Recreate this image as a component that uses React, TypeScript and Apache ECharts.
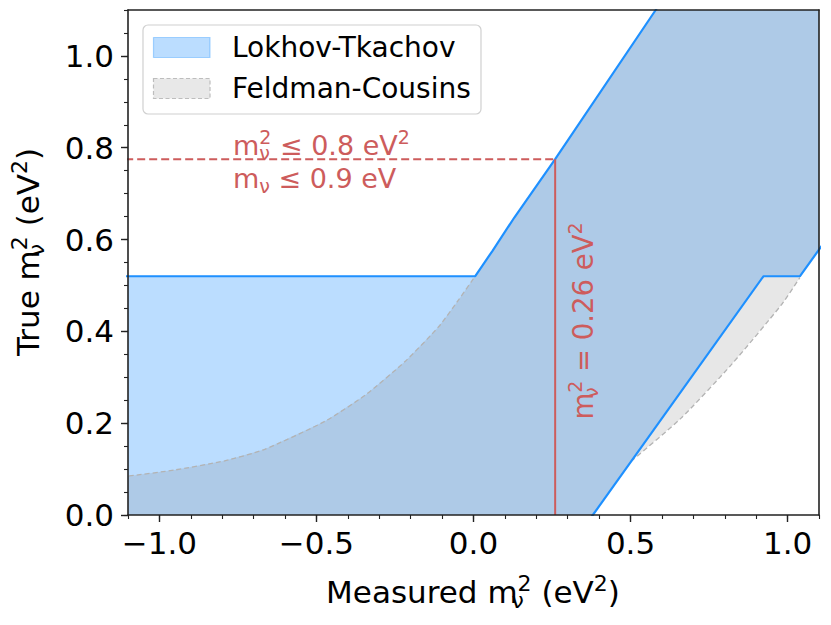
import React, { useEffect, useRef } from 'react';
import * as echarts from 'echarts';

// ---- axis ticks ----
const xMajorTicks = [-1.0, -0.5, 0.0, 0.5, 1.0];
const xMinorTicks = [-1.1, -1.0, -0.9, -0.8, -0.7, -0.6, -0.5, -0.4, -0.3, -0.2, -0.1, 0.0, 0.1, 0.2, 0.3, 0.4, 0.5, 0.6, 0.7, 0.8, 0.9, 1.0, 1.1];
const yMajorTicks = [0.0, 0.2, 0.4, 0.6, 0.8, 1.0];
const yMinorTicks = [0.0, 0.05, 0.1, 0.15, 0.2, 0.25, 0.3, 0.35, 0.4, 0.45, 0.5, 0.55, 0.6, 0.65, 0.7, 0.75, 0.8, 0.85, 0.9, 0.95, 1.0, 1.05, 1.1];
const xRange = [-1.1, 1.1];
const yRange = [0.0, 1.1];

// ---- Lokhov-Tkachov band boundaries [measured, true] ----
const ltUpper = [[-1.3, 0.52], [0.005, 0.52], [0.03, 0.545], [0.06, 0.575], [0.13, 0.648], [0.26, 0.775], [0.58, 1.1], [0.7, 1.22]];
const ltLower = [[0.276, -0.1], [0.38, 0.0], [0.923, 0.52], [1.039, 0.52], [1.1, 0.578], [1.2, 0.674]];
const bandFloor = [[-1.3, -0.1]];
const bandCeiling = [[1.3, 1.3]];

// ---- Feldman-Cousins band boundaries ----
const fcUpperLeft = [[-1.3, 0.07], [-1.096, 0.085], [-0.952, 0.098], [-0.792, 0.118], [-0.665, 0.143], [-0.473, 0.204], [-0.345, 0.261], [-0.217, 0.335], [-0.111, 0.41], [-0.047, 0.469], [0.005, 0.52]];
const fcLowerRight = [[0.502, 0.117], [0.661, 0.211], [0.821, 0.3275], [0.981, 0.4585], [1.039, 0.517]];

// ---- annotation ----
const limitTrue = [0.775];
const limitMeasured = [0.26];

const ltPolygon = [...ltUpper, ...bandCeiling, ...ltLower.slice().reverse(), ...bandFloor];
const fcLower = [...bandFloor, ltLower[0], ltLower[1], ...fcLowerRight, ltLower[4], ltLower[5]];
const fcPolygon = [...fcUpperLeft, ...ltUpper.filter((p) => p[0] > 0.005), ...bandCeiling, ...fcLower.slice().reverse()];

const FONT = 'DejaVu Sans';
const RED = '#cd5c5c';
const BLUE = '#1e90ff';

function polySeries(points: number[][], fill: string, z: number) {
  return {
    type: 'custom',
    clip: true,
    silent: true,
    z,
    data: [[0, 0]],
    renderItem: (_p: any, api: any) => ({
      type: 'polygon',
      shape: { points: points.map((pt) => api.coord(pt)) },
      style: { fill },
    }),
  };
}

function lineSeries(data: number[][], color: string, width: number, type: any, z: number, smooth = 0) {
  return {
    type: 'line',
    data,
    z,
    silent: true,
    showSymbol: false,
    symbol: 'none',
    smooth,
    clip: true,
    lineStyle: { color, width, type },
  };
}

function mathRich(size: number, color: string) {
  const s = Math.round(size * 0.7);
  const H = size + 8;
  const base = { fontFamily: FONT, fill: color, color };
  return {
    n: { ...base, fontSize: size, lineHeight: H },
    sub: { ...base, fontSize: s, lineHeight: H - 0.6 * size, verticalAlign: 'bottom', width: 0 },
    subw: { ...base, fontSize: s, lineHeight: H - 0.6 * size, verticalAlign: 'bottom' },
    sup: { ...base, fontSize: s, lineHeight: H - 0.3 * size, verticalAlign: 'top' },
  };
}

export default function App() {
  const ref = useRef<HTMLDivElement>(null);
  useEffect(() => {
    if (!ref.current) return;
    const chart = echarts.init(ref.current, null, { renderer: 'svg' });
    const axisCol = '#222';
    const xFmt = (v: number) => (v < 0 ? '\u2212' : '') + Math.abs(v).toFixed(1);
    const option: any = {
      animation: false,
      grid: { left: 128, right: 12, top: 10, bottom: 110 },
      xAxis: [
        {
          type: 'value', min: xRange[0], max: xRange[1], position: 'bottom', z: 10,
          axisLine: { show: true, onZero: false, lineStyle: { color: axisCol, width: 1.6 } },
          splitLine: { show: false },
          axisTick: { show: true, customValues: xMajorTicks, length: 7, lineStyle: { color: axisCol, width: 1.4 } },
          axisLabel: { customValues: xMajorTicks, formatter: xFmt, fontSize: 31, color: '#000', fontFamily: FONT, margin: 12 },
        },
        {
          type: 'value', min: xRange[0], max: xRange[1], position: 'bottom', z: 10,
          axisLine: { show: false, onZero: false },
          splitLine: { show: false },
          axisTick: { show: true, customValues: xMinorTicks, length: 4, lineStyle: { color: axisCol, width: 1.1 } },
          axisLabel: { show: false },
        },
        {
          type: 'value', min: xRange[0], max: xRange[1], position: 'top', z: 10,
          axisLine: { show: true, onZero: false, lineStyle: { color: axisCol, width: 1.6 } },
          splitLine: { show: false }, axisTick: { show: false }, axisLabel: { show: false },
        },
      ],
      yAxis: [
        {
          type: 'value', min: yRange[0], max: yRange[1], position: 'left', z: 10,
          axisLine: { show: true, onZero: false, lineStyle: { color: axisCol, width: 1.6 } },
          splitLine: { show: false },
          axisTick: { show: true, customValues: yMajorTicks, length: 7, lineStyle: { color: axisCol, width: 1.4 } },
          axisLabel: { customValues: yMajorTicks, formatter: (v: number) => v.toFixed(1), fontSize: 31, color: '#000', fontFamily: FONT, margin: 14 },
        },
        {
          type: 'value', min: yRange[0], max: yRange[1], position: 'left', z: 10,
          axisLine: { show: false, onZero: false },
          splitLine: { show: false },
          axisTick: { show: true, customValues: yMinorTicks, length: 4, lineStyle: { color: axisCol, width: 1.1 } },
          axisLabel: { show: false },
        },
        {
          type: 'value', min: yRange[0], max: yRange[1], position: 'right', z: 10,
          axisLine: { show: true, onZero: false, lineStyle: { color: axisCol, width: 1.6 } },
          splitLine: { show: false }, axisTick: { show: false }, axisLabel: { show: false },
        },
      ],
      series: [
        polySeries(ltPolygon, 'rgba(30,144,255,0.3)', 1),
        polySeries(fcPolygon, 'rgba(105,105,105,0.16)', 2),
        lineSeries(fcUpperLeft, '#b3b3b3', 1.3, [5, 3], 3, 0.2),
        lineSeries(fcLowerRight, '#b3b3b3', 1.3, [5, 3], 3, 0.2),
        lineSeries(ltUpper, BLUE, 2.2, 'solid', 4),
        lineSeries(ltLower, BLUE, 2.2, 'solid', 4),
        lineSeries([[-1.3, limitTrue[0]], [limitMeasured[0], limitTrue[0]]], RED, 2, [8, 4], 5),
        lineSeries([[limitMeasured[0], 0], [limitMeasured[0], limitTrue[0]]], RED, 2, 'solid', 5),
      ],
      graphic: [
        // legend
        { type: 'rect', z: 20, shape: { x: 143, y: 25, width: 338, height: 89, r: 5 }, style: { fill: 'rgba(255,255,255,0.8)', stroke: '#d0d0d0', lineWidth: 1.2 } },
        { type: 'rect', z: 21, shape: { x: 153.5, y: 37.5, width: 56.5, height: 20 }, style: { fill: '#bbddff', stroke: 'rgba(30,144,255,0.35)', lineWidth: 1.2 } },
        { type: 'rect', z: 21, shape: { x: 153.5, y: 78.5, width: 56.5, height: 20 }, style: { fill: '#e8e8e8', stroke: '#bdbdbd', lineWidth: 1.2, lineDash: [4, 2.5] } },
        { type: 'text', z: 21, x: 232, y: 47.5, style: { text: 'Lokhov-Tkachov', fontSize: 28, fontFamily: FONT, fill: '#000', verticalAlign: 'middle' } },
        { type: 'text', z: 21, x: 232, y: 88.5, style: { text: 'Feldman-Cousins', fontSize: 28, fontFamily: FONT, fill: '#000', verticalAlign: 'middle' } },
        // red annotations
        { type: 'text', z: 21, x: 233, y: 145, style: { text: '{n|m}{sub|ν}{sup|2}{n| ≤ 0.8 eV}{sup|2}', rich: mathRich(27, RED), verticalAlign: 'middle' } },
        { type: 'text', z: 21, x: 233, y: 178, style: { text: '{n|m}{subw|ν}{n| ≤ 0.9 eV}', rich: mathRich(27, RED), verticalAlign: 'middle' } },
        { type: 'text', z: 21, x: 583, y: 321, rotation: Math.PI / 2, style: { text: '{n|m}{sub|ν}{sup|2}{n| = 0.26 eV}{sup|2}', rich: mathRich(27.5, RED), align: 'center', verticalAlign: 'middle' } },
        // axis titles
        { type: 'text', z: 21, x: 473, y: 592, style: { text: '{n|Measured m}{sub|ν}{sup|2}{n| (eV}{sup|2}{n|)}', rich: mathRich(31, '#000'), align: 'center', verticalAlign: 'middle' } },
        { type: 'text', z: 21, x: 28, y: 252, rotation: Math.PI / 2, style: { text: '{n|True m}{sub|ν}{sup|2}{n| (eV}{sup|2}{n|)}', rich: mathRich(31, '#000'), align: 'center', verticalAlign: 'middle' } },
      ],
    };
    chart.setOption(option);
    return () => chart.dispose();
  }, []);
  return <div ref={ref} style={{ position: 'absolute', left: 0, top: 0, width: 831, height: 625 }} />;
}
